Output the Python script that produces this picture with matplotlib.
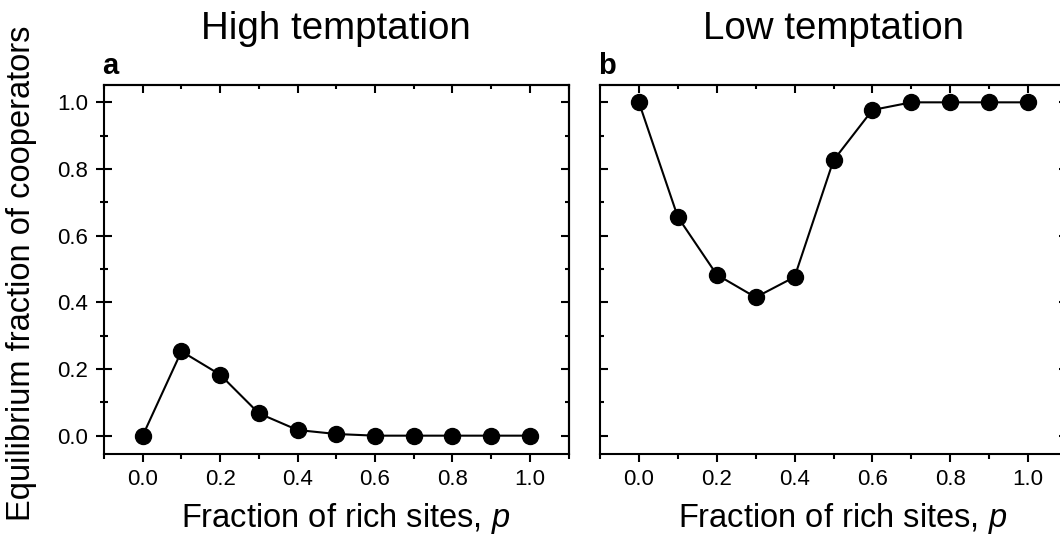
# Equilibrium fraction of cooperators vs fraction of rich sites, two panels
import matplotlib
matplotlib.use("Agg")
from matplotlib import pyplot as plt
from matplotlib.ticker import MultipleLocator, FormatStrFormatter, NullFormatter

plt.rcParams['font.family'] = ['Liberation Sans', 'DejaVu Sans']
plt.rcParams['mathtext.fontset'] = 'custom'
plt.rcParams['mathtext.rm'] = 'Liberation Sans'
plt.rcParams['mathtext.it'] = 'Liberation Sans:italic'

p_values = [0.0, 0.1, 0.2, 0.3, 0.4, 0.5, 0.6, 0.7, 0.8, 0.9, 1.0]
high_temptation = [0.0, 0.253, 0.183, 0.067, 0.017, 0.005, 0.0, 0.0, 0.0, 0.0, 0.0]
low_temptation = [1.0, 0.656, 0.483, 0.415, 0.476, 0.826, 0.977, 1.0, 1.0, 1.0, 1.0]

titles = ["High temptation", "Low temptation"]
panel_tags = ["a", "b"]
x_label = "Fraction of rich sites, $\\mathit{p}$"
y_label = "Equilibrium fraction of cooperators"

W, H = 1060, 537
LW = 1.5


def style_panel(ax, with_ylabels):
    ax.set_xlim(-0.1, 1.1)
    ax.set_ylim(-0.055, 1.052)
    for axis in (ax.xaxis, ax.yaxis):
        axis.set_major_locator(MultipleLocator(0.2))
        axis.set_minor_locator(MultipleLocator(0.1))
        axis.set_major_formatter(FormatStrFormatter('%.1f'))
    for sp in ax.spines.values():
        sp.set_linewidth(LW)

    ax.tick_params(axis='x', which='both', direction='out', width=LW,
                   top=False, labelsize=16, pad=5)
    ax.tick_params(axis='x', which='major', length=5.8)
    ax.tick_params(axis='x', which='minor', length=3.6)
    if with_ylabels:
        ax.tick_params(axis='y', which='both', direction='inout', width=LW,
                       right=False, labelsize=16, pad=5.5)
        ax.tick_params(axis='y', which='major', length=11.5)
        ax.tick_params(axis='y', which='minor', length=5.8)
    else:
        ax.tick_params(axis='y', which='both', direction='in', width=LW,
                       right=False, labelleft=False)
        ax.tick_params(axis='y', which='major', length=5.8)
        ax.tick_params(axis='y', which='minor', length=2.9)

    # inward ticks on top and right, no labels
    top = ax.secondary_xaxis('top')
    right = ax.secondary_yaxis('right')
    for sec, axis in ((top, top.xaxis), (right, right.yaxis)):
        axis.set_major_locator(MultipleLocator(0.2))
        axis.set_minor_locator(MultipleLocator(0.1))
        axis.set_major_formatter(NullFormatter())
        sec.tick_params(which='both', direction='in', width=LW)
        sec.tick_params(which='major', length=5.8)
        sec.tick_params(which='minor', length=2.9)
        for sp in sec.spines.values():
            sp.set_linewidth(LW)


fig = plt.figure(figsize=(W / 100, H / 100), dpi=100)
ax_a = fig.add_axes([104 / W, 83 / H, 464.5 / W, 369 / H])
ax_b = fig.add_axes([600 / W, 83 / H, 467 / W, 369 / H])

for ax, ys, title, tag, lab in zip((ax_a, ax_b), (high_temptation, low_temptation),
                                    titles, panel_tags, (True, False)):
    ax.plot(p_values, ys, color='black', lw=1.5, marker='o', ms=11.5,
            mfc='black', mec='black', clip_on=False, zorder=3)
    style_panel(ax, lab)
    ax.text(0.5, 1 + 45.7 / 369, title, transform=ax.transAxes,
            ha='center', va='baseline', fontsize=27.7)
    ax.text(-0.004, 1.03, tag, transform=ax.transAxes, ha='left', va='baseline',
            fontsize=21, fontweight='bold')
    ax.text(0.52, -0.197, x_label, transform=ax.transAxes, ha='center',
            va='baseline', fontsize=23.5)

fig.text(22 / W, 1 - 273 / H, y_label, rotation=90, ha='center', va='center',
         fontsize=23.5)

fig.savefig("out.png", dpi=100)
